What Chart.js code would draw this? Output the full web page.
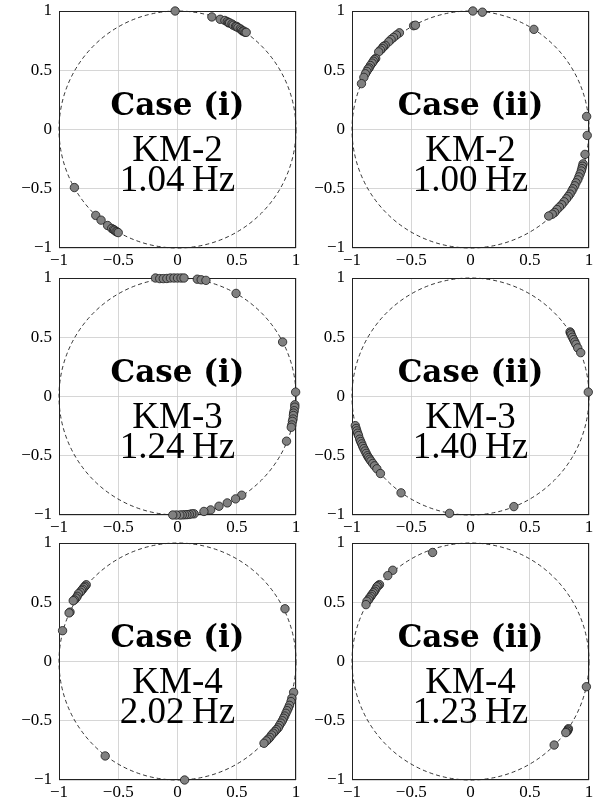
<!DOCTYPE html>
<html>
<head>
<meta charset="utf-8">
<script src="https://cdn.jsdelivr.net/npm/chart.js@4.4.1/dist/chart.umd.min.js"></script>
<style>
  html, body { margin: 0; padding: 0; background: #ffffff; }
  body { width: 597px; height: 804px; position: relative; overflow: hidden; }
  .panel { position: absolute; width: 306px; height: 272px; }
  .panel canvas { display: block; }
</style>
</head>
<body>
<div class="panel" style="left:0px;top:0px"><canvas id="c0" width="306" height="272"></canvas></div>
<div class="panel" style="left:293px;top:0px"><canvas id="c1" width="306" height="272"></canvas></div>
<div class="panel" style="left:0px;top:267px"><canvas id="c2" width="306" height="272"></canvas></div>
<div class="panel" style="left:293px;top:267px"><canvas id="c3" width="306" height="272"></canvas></div>
<div class="panel" style="left:0px;top:532px"><canvas id="c4" width="306" height="272"></canvas></div>
<div class="panel" style="left:293px;top:532px"><canvas id="c5" width="306" height="272"></canvas></div>
<script>
// ---------- data ----------
const caseLabels = ["Case (i)", "Case (ii)", "Case (i)", "Case (ii)", "Case (i)", "Case (ii)"];
const modeLabels = ["KM-2", "KM-2", "KM-3", "KM-3", "KM-4", "KM-4"];
const freqLabels = ["1.04\u2009Hz", "1.00\u2009Hz", "1.24\u2009Hz", "1.40\u2009Hz", "2.02\u2009Hz", "1.23\u2009Hz"];
const tickValues = [-1, -0.5, 0, 0.5, 1];

const km2Case1X = [-0.02, 0.29, 0.36, 0.40, 0.42, 0.43, 0.44, 0.46, 0.47, 0.49, 0.50, 0.51, 0.53, 0.54, 0.55, 0.56, 0.57, 0.58,
  -0.87, -0.69, -0.645, -0.59, -0.555, -0.54, -0.53, -0.52, -0.51, -0.50];
const km2Case1Y = [1.0, 0.95, 0.93, 0.92, 0.91, 0.90, 0.90, 0.89, 0.88, 0.87, 0.87, 0.86, 0.85, 0.84, 0.83, 0.83, 0.82, 0.82,
  -0.49, -0.725, -0.765, -0.81, -0.835, -0.845, -0.85, -0.86, -0.865, -0.87];

const km2Case2X = [0.02, 0.10, 0.535, -0.48, -0.465,
  -0.60, -0.625, -0.65, -0.67, -0.69, -0.72, -0.735, -0.746, -0.76, -0.775, -0.80, -0.81, -0.82, -0.83, -0.845, -0.855, -0.865, -0.875, -0.887, -0.90, -0.92,
  0.98, 0.985, 0.966, 0.95, 0.945, 0.94, 0.935, 0.925, 0.915, 0.905, 0.89, 0.88, 0.865, 0.855, 0.84, 0.825, 0.81, 0.79, 0.77, 0.75, 0.73, 0.71, 0.69, 0.66];
const km2Case2Y = [1.0, 0.99, 0.845, 0.876, 0.88,
  0.816, 0.797, 0.777, 0.76, 0.74, 0.71, 0.70, 0.684, 0.67, 0.655, 0.60, 0.59, 0.576, 0.56, 0.54, 0.52, 0.51, 0.49, 0.47, 0.44, 0.387,
  0.11, -0.05, -0.21, -0.29, -0.31, -0.33, -0.35, -0.375, -0.40, -0.425, -0.45, -0.475, -0.50, -0.52, -0.545, -0.565, -0.585, -0.61, -0.635, -0.655, -0.675, -0.70, -0.715, -0.73];

const km3Case1X = [-0.186, -0.15, -0.12, -0.09, -0.06, -0.03, 0.0, 0.03, 0.055, 0.167, 0.20, 0.24, 0.494, 0.887,
  0.997, 0.99, 0.99, 0.985, 0.98, 0.978, 0.975, 0.97, 0.965, 0.96, 0.92,
  0.542, 0.49, 0.42, 0.35, 0.28, 0.223, 0.14, 0.12, 0.10, 0.08, 0.06, 0.04, 0.02, -0.01, -0.04];
const km3Case1Y = [1.0, 0.995, 0.995, 0.996, 1.0, 1.0, 1.0, 1.0, 1.0, 0.99, 0.985, 0.98, 0.87, 0.46,
  0.037, -0.07, -0.09, -0.12, -0.14, -0.16, -0.19, -0.21, -0.24, -0.26, -0.377,
  -0.833, -0.864, -0.898, -0.926, -0.957, -0.97, -0.99, -0.99, -0.995, -0.997, -0.998, -0.999, -1.0, -1.0, -1.0];

const km3Case2X = [0.84, 0.845, 0.85, 0.86, 0.87, 0.88, 0.89, 0.905, 0.93, 0.994,
  -0.972, -0.965, -0.96, -0.952, -0.945, -0.935, -0.927, -0.918, -0.91, -0.90, -0.89, -0.88, -0.87, -0.86, -0.85, -0.84, -0.825, -0.81, -0.79, -0.76,
  -0.586, -0.177, 0.366];
const km3Case2Y = [0.545, 0.535, 0.52, 0.50, 0.48, 0.46, 0.44, 0.41, 0.37, 0.037,
  -0.246, -0.27, -0.29, -0.31, -0.33, -0.36, -0.38, -0.40, -0.42, -0.44, -0.46, -0.48, -0.50, -0.515, -0.53, -0.545, -0.565, -0.585, -0.61, -0.65,
  -0.813, -0.986, -0.929];

const km4Case1X = [-0.77, -0.78, -0.79, -0.80, -0.81, -0.82, -0.836, -0.846, -0.856, -0.87, -0.88, -0.907, -0.915, -0.97, 0.907,
  0.98, 0.965, 0.958, 0.945, 0.935, 0.925, 0.915, 0.905, 0.895, 0.885, 0.873, 0.86, 0.85, 0.835, 0.822, 0.808, 0.794, 0.78, 0.765, 0.75, 0.73,
  -0.61, 0.06];
const km4Case1Y = [0.648, 0.635, 0.625, 0.61, 0.60, 0.585, 0.572, 0.55, 0.535, 0.52, 0.513, 0.417, 0.41, 0.26, 0.445,
  -0.26, -0.31, -0.338, -0.37, -0.394, -0.415, -0.437, -0.46, -0.479, -0.50, -0.52, -0.54, -0.56, -0.575, -0.59, -0.605, -0.62, -0.64, -0.656, -0.67, -0.69,
  -0.797, -1.0];

const km4Case2X = [-0.32, -0.656, -0.698, -0.768, -0.78, -0.79, -0.80, -0.81, -0.82, -0.832, -0.84, -0.852, -0.86, -0.874, -0.882,
  0.978, 0.826, 0.822, 0.818, 0.81, 0.804, 0.706];
const km4Case2Y = [0.92, 0.77, 0.725, 0.649, 0.64, 0.63, 0.61, 0.593, 0.58, 0.565, 0.55, 0.537, 0.52, 0.508, 0.48,
  -0.213, -0.567, -0.577, -0.587, -0.595, -0.60, -0.705];

const panelX = [km2Case1X, km2Case2X, km3Case1X, km3Case2X, km4Case1X, km4Case2X];
const panelY = [km2Case1Y, km2Case2Y, km3Case1Y, km3Case2Y, km4Case1Y, km4Case2Y];

// ---------- plugins ----------
const unitCircle = {
  id: 'unitCircle',
  beforeDatasetsDraw(chart) {
    const {ctx, scales: {x, y}} = chart;
    const cx = x.getPixelForValue(0), cy = y.getPixelForValue(0);
    const rx = x.getPixelForValue(1) - cx, ry = cy - y.getPixelForValue(1);
    ctx.save();
    ctx.beginPath();
    ctx.ellipse(cx, cy, rx, ry, 0, 0, Math.PI * 2);
    ctx.setLineDash([4, 3]);
    ctx.lineWidth = 0.8;
    ctx.strokeStyle = '#000';
    ctx.stroke();
    ctx.restore();
  }
};
const panelText = {
  id: 'panelText',
  beforeDatasetsDraw(chart) {
    const {ctx, chartArea: a} = chart;
    ctx.save();
    ctx.strokeStyle = '#222';
    ctx.lineWidth = 1;
    ctx.strokeRect(Math.round(a.left) + 0.5, Math.round(a.top) + 0.5, Math.round(a.width) - 1, Math.round(a.height) - 1);
    ctx.restore();
  },
  afterDatasetsDraw(chart, args, opts) {
    const {ctx, scales: {x, y}} = chart;
    const cx = x.getPixelForValue(0);
    ctx.save();
    ctx.fillStyle = '#000';
    ctx.textAlign = 'center';
    ctx.textBaseline = 'alphabetic';
    ctx.font = 'bold 31px "DejaVu Serif"';
    ctx.fillText(opts.caseLabel, cx, y.getPixelForValue(0.125));
    ctx.font = '37px "Liberation Serif"';
    ctx.fillText(opts.modeLabel, cx, y.getPixelForValue(-0.27));
    ctx.fillText(opts.freqLabel, cx, y.getPixelForValue(-0.515));
    ctx.restore();
  }
};

function fmt(v) {
  if (Math.abs(v) < 1e-9) return '0';
  return (v < 0 ? '\u2212' : '') + String(Math.abs(v));
}

function axis(isY) {
  return {
    type: 'linear',
    min: -1, max: 1,
    afterBuildTicks(scale) { scale.ticks = tickValues.map(v => ({value: v})); },
    afterFit(scale) {
      if (isY) scale.width = 59; else scale.height = 24;
      scale.paddingLeft = 0; scale.paddingRight = 0; scale.paddingTop = 0; scale.paddingBottom = 0;
    },
    grid: { color: '#cbcbcb', lineWidth: 0.8, drawTicks: false },
    border: { display: false },
    ticks: {
      padding: isY ? 7 : 2,
      color: '#000',
      font: { family: '"Liberation Serif"', size: 17 },
      maxRotation: 0,
      autoSkip: false,
      callback: fmt
    }
  };
}

for (let i = 0; i < 6; i++) {
  const pts = panelX[i].map((v, k) => ({x: v, y: panelY[i][k]}));
  new Chart(document.getElementById('c' + i), {
    type: 'scatter',
    data: {
      datasets: [{
        data: pts,
        clip: false,
        pointRadius: 4.2,
        pointBackgroundColor: '#808080',
        pointBorderColor: '#1a1a1a',
        pointBorderWidth: 0.8
      }]
    },
    options: {
      responsive: false,
      animation: false,
      devicePixelRatio: 1,
      layout: { padding: { left: 0, top: 11, right: 10, bottom: 0 } },
      scales: { x: axis(false), y: axis(true) },
      plugins: {
        legend: { display: false },
        tooltip: { enabled: false },
        panelText: { caseLabel: caseLabels[i], modeLabel: modeLabels[i], freqLabel: freqLabels[i] }
      }
    },
    plugins: [unitCircle, panelText]
  });
}
</script>
</body>
</html>
